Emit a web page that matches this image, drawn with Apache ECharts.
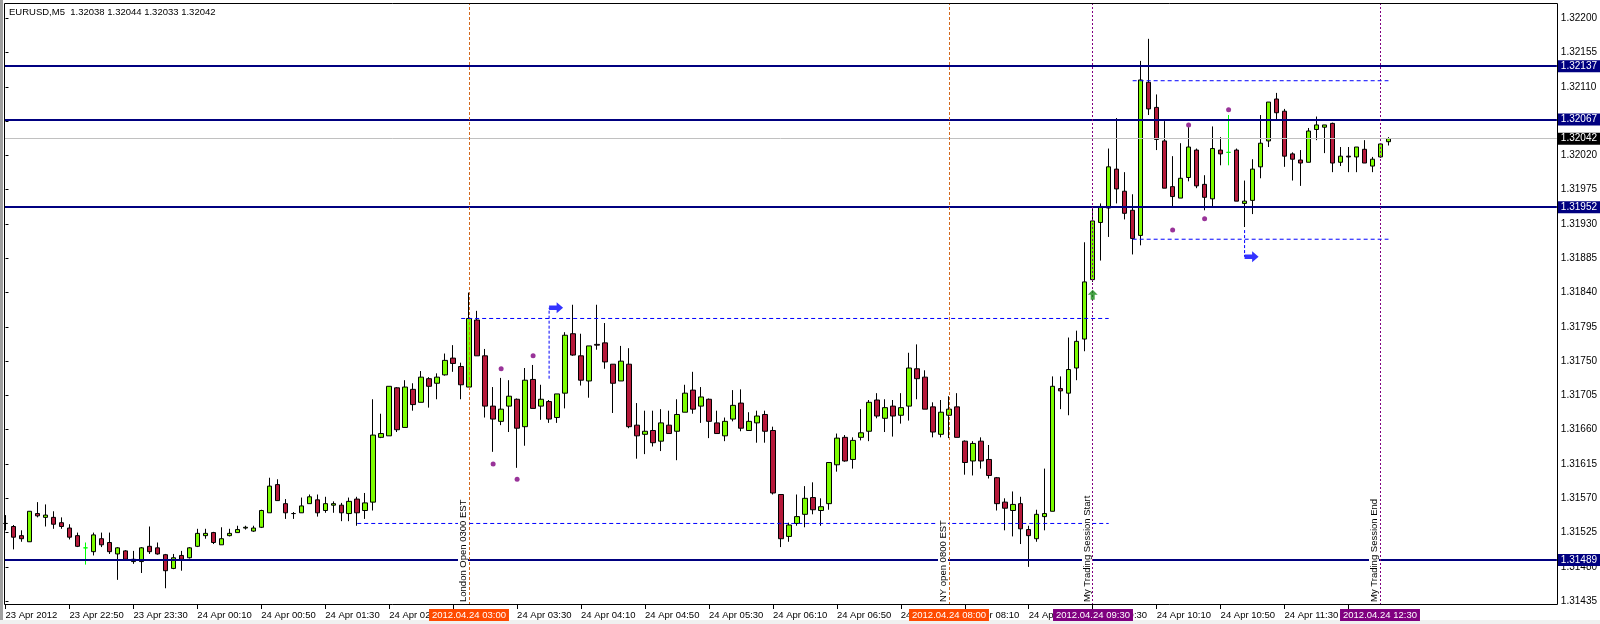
<!DOCTYPE html>
<html><head><meta charset="utf-8">
<script src="https://cdn.jsdelivr.net/npm/echarts@6/dist/echarts.min.js"></script>
<style>html,body{margin:0;padding:0;background:#fff;}#c{width:1600px;height:624px;}</style>
</head><body><div id="c"></div>
<script>
const titleText = 'EURUSD,M5  1.32038 1.32044 1.32033 1.32042';

// [time, open, high, low, close]  (23 Apr 22:10 -> 24 Apr 12:35, M5)
const candles = [
['22:10',1.31537,1.31548,1.31528,1.31537],['22:15',1.31533,1.31535,1.31503,1.31519],['22:20',1.31521,1.31528,1.31513,1.31517],
['22:25',1.31513,1.31553,1.31513,1.31553],['22:30',1.31550,1.31565,1.31545,1.31547],['22:35',1.31545,1.31562,1.31533,1.31548],
['22:40',1.31545,1.31553,1.31530,1.31536],['22:45',1.31538,1.31545,1.31530,1.31533],['22:50',1.31531,1.31536,1.31516,1.31519],
['22:55',1.31521,1.31525,1.31506,1.31507],['23:00',1.31505,1.31512,1.31483,1.31505],['23:05',1.31500,1.31525,1.31495,1.31522],
['23:10',1.31517,1.31525,1.31506,1.31509],['23:15',1.31512,1.31525,1.31497,1.31500],['23:20',1.31497,1.31506,1.31463,1.31505],
['23:25',1.31501,1.31502,1.31489,1.31490],['23:30',1.31487,1.31501,1.31484,1.31490],['23:35',1.31487,1.31506,1.31472,1.31505],
['23:40',1.31507,1.31533,1.31497,1.31500],['23:45',1.31505,1.31512,1.31496,1.31497],['23:50',1.31496,1.31497,1.31452,1.31475],
['23:55',1.31478,1.31497,1.31477,1.31492],['00:00',1.31495,1.31501,1.31475,1.31490],['00:05',1.31492,1.31506,1.31491,1.31505],
['00:10',1.31507,1.31530,1.31506,1.31524],['00:15',1.31521,1.31530,1.31517,1.31524],['00:20',1.31525,1.31526,1.31510,1.31512],
['00:25',1.31509,1.31532,1.31509,1.31517],['00:30',1.31521,1.31530,1.31520,1.31524],['00:35',1.31525,1.31534,1.31525,1.31529],
['00:40',1.31531,1.31534,1.31529,1.31532],['00:45',1.31527,1.31534,1.31526,1.31531],['00:50',1.31532,1.31555,1.31531,1.31554],
['00:55',1.31551,1.31597,1.31551,1.31586],['01:00',1.31588,1.31595,1.31567,1.31567],['01:05',1.31563,1.31569,1.31543,1.31551],
['01:10',1.31550,1.31552,1.31543,1.31550],['01:15',1.31551,1.31571,1.31551,1.31560],['01:20',1.31563,1.31575,1.31563,1.31572],
['01:25',1.31568,1.31575,1.31546,1.31551],['01:30',1.31554,1.31572,1.31551,1.31563],['01:35',1.31561,1.31566,1.31551,1.31563],
['01:40',1.31561,1.31564,1.31540,1.31551],['01:45',1.31550,1.31571,1.31540,1.31566],['01:50',1.31569,1.31572,1.31534,1.31551],
['01:55',1.31554,1.31577,1.31543,1.31564],['02:00',1.31565,1.31700,1.31554,1.31653],['02:05',1.31650,1.31681,1.31649,1.31655],
['02:10',1.31652,1.31717,1.31652,1.31717],['02:15',1.31715,1.31716,1.31657,1.31660],['02:20',1.31663,1.31725,1.31663,1.31716],
['02:25',1.31713,1.31721,1.31685,1.31693],['02:30',1.31696,1.31737,1.31696,1.31729],['02:35',1.31727,1.31729,1.31689,1.31717],
['02:40',1.31721,1.31734,1.31700,1.31729],['02:45',1.31732,1.31760,1.31731,1.31751],['02:50',1.31754,1.31771,1.31736,1.31747],
['02:55',1.31743,1.31748,1.31700,1.31719],['03:00',1.31716,1.31840,1.31716,1.31806],['03:05',1.31804,1.31816,1.31757,1.31757],
['03:10',1.31757,1.31766,1.31676,1.31691],['03:15',1.31691,1.31716,1.31631,1.31674],['03:20',1.31671,1.31728,1.31666,1.31687],
['03:25',1.31691,1.31725,1.31657,1.31704],['03:30',1.31700,1.31701,1.31610,1.31662],['03:35',1.31664,1.31741,1.31639,1.31725],
['03:40',1.31726,1.31745,1.31688,1.31688],['03:45',1.31691,1.31719,1.31673,1.31700],['03:50',1.31697,1.31699,1.31669,1.31674],
['03:55',1.31676,1.31707,1.31669,1.31707],['04:00',1.31708,1.31788,1.31688,1.31784],['04:05',1.31786,1.31824,1.31757,1.31758],
['04:10',1.31757,1.31786,1.31718,1.31725],['04:15',1.31724,1.31770,1.31702,1.31770],['04:20',1.31772,1.31824,1.31765,1.31771],
['04:25',1.31774,1.31800,1.31740,1.31749],['04:30',1.31746,1.31746,1.31682,1.31721],['04:35',1.31724,1.31770,1.31724,1.31750],
['04:40',1.31746,1.31767,1.31662,1.31664],['04:45',1.31666,1.31695,1.31622,1.31652],['04:50',1.31654,1.31685,1.31628,1.31658],
['04:55',1.31659,1.31685,1.31638,1.31643],['05:00',1.31645,1.31687,1.31632,1.31669],['05:05',1.31666,1.31685,1.31655,1.31655],
['05:10',1.31658,1.31700,1.31620,1.31680],['05:15',1.31683,1.31719,1.31683,1.31708],['05:20',1.31712,1.31736,1.31681,1.31687],
['05:25',1.31691,1.31716,1.31669,1.31703],['05:30',1.31700,1.31701,1.31649,1.31671],['05:35',1.31669,1.31685,1.31655,1.31655],
['05:40',1.31652,1.31676,1.31645,1.31671],['05:45',1.31674,1.31712,1.31671,1.31692],['05:50',1.31695,1.31713,1.31658,1.31662],
['05:55',1.31659,1.31683,1.31659,1.31671],['06:00',1.31669,1.31685,1.31643,1.31678],['06:05',1.31680,1.31685,1.31643,1.31658],
['06:10',1.31659,1.31664,1.31575,1.31577],['06:15',1.31575,1.31575,1.31506,1.31517],['06:20',1.31520,1.31538,1.31513,1.31535],
['06:25',1.31537,1.31575,1.31534,1.31546],['06:30',1.31549,1.31586,1.31532,1.31570],['06:35',1.31571,1.31591,1.31549,1.31555],
['06:40',1.31554,1.31570,1.31534,1.31559],['06:45',1.31563,1.31617,1.31555,1.31617],['06:50',1.31614,1.31655,1.31605,1.31649],
['06:55',1.31650,1.31653,1.31618,1.31619],['07:00',1.31621,1.31650,1.31609,1.31646],['07:05',1.31650,1.31687,1.31646,1.31656],
['07:10',1.31658,1.31699,1.31645,1.31696],['07:15',1.31699,1.31708,1.31675,1.31678],['07:20',1.31675,1.31700,1.31657,1.31689],
['07:25',1.31691,1.31699,1.31651,1.31678],['07:30',1.31679,1.31708,1.31668,1.31689],['07:35',1.31691,1.31761,1.31672,1.31741],
['07:40',1.31740,1.31772,1.31700,1.31727],['07:45',1.31729,1.31738,1.31687,1.31687],['07:50',1.31690,1.31696,1.31650,1.31657],
['07:55',1.31654,1.31699,1.31650,1.31683],['08:00',1.31679,1.31704,1.31649,1.31687],['08:05',1.31690,1.31708,1.31650,1.31650],
['08:10',1.31645,1.31646,1.31601,1.31617],['08:15',1.31619,1.31645,1.31600,1.31642],['08:20',1.31645,1.31650,1.31609,1.31619],
['08:25',1.31621,1.31640,1.31596,1.31600],['08:30',1.31597,1.31598,1.31554,1.31563],['08:35',1.31565,1.31570,1.31528,1.31557],
['08:40',1.31554,1.31579,1.31520,1.31562],['08:45',1.31563,1.31572,1.31510,1.31530],['08:50',1.31529,1.31534,1.31480,1.31521],
['08:55',1.31517,1.31555,1.31513,1.31549],['09:00',1.31546,1.31609,1.31528,1.31550],['09:05',1.31553,1.31730,1.31553,1.31717],
['09:10',1.31714,1.31730,1.31687,1.31711],['09:15',1.31708,1.31781,1.31679,1.31739],['09:20',1.31741,1.31790,1.31725,1.31776],
['09:25',1.31779,1.31906,1.31763,1.31854],['09:30',1.31857,1.31950,1.31854,1.31934],['09:35',1.31932,1.31957,1.31882,1.31953],
['09:40',1.31951,1.32029,1.31913,1.32005],['09:45',1.32002,1.32069,1.31957,1.31976],['09:50',1.31973,1.31998,1.31936,1.31944],
['09:55',1.31948,1.31969,1.31890,1.31911],['10:00',1.31915,1.32144,1.31902,1.32119],['10:05',1.32116,1.32173,1.32073,1.32081],
['10:10',1.32083,1.32100,1.32027,1.32041],['10:15',1.32039,1.32065,1.31977,1.31977],['10:20',1.31979,1.32019,1.31952,1.31966],
['10:25',1.31964,1.32036,1.31964,1.31990],['10:30',1.31991,1.32057,1.31986,1.32031],['10:35',1.32027,1.32029,1.31977,1.31980],
['10:40',1.31982,1.31994,1.31948,1.31965],['10:45',1.31963,1.32058,1.31951,1.32029],['10:50',1.32027,1.32044,1.32007,1.32022],
['10:55',1.32024,1.32073,1.32007,1.32024],['11:00',1.32027,1.32029,1.31960,1.31960],['11:05',1.31957,1.31987,1.31926,1.31960],
['11:10',1.31961,1.32015,1.31943,1.32002],['11:15',1.32005,1.32073,1.31990,1.32036],['11:20',1.32039,1.32090,1.32031,1.32090],
['11:25',1.32094,1.32102,1.32066,1.32076],['11:30',1.32078,1.32081,1.32005,1.32019],['11:35',1.32022,1.32024,1.31987,1.32015],
['11:40',1.32014,1.32027,1.31980,1.32010],['11:45',1.32011,1.32056,1.32011,1.32052],['11:50',1.32054,1.32071,1.32040,1.32060],
['11:55',1.32057,1.32060,1.32023,1.32060],['12:00',1.32062,1.32063,1.31998,1.32010],['12:05',1.32011,1.32031,1.32006,1.32019],
['12:10',1.32019,1.32031,1.31998,1.32018],['12:15',1.32018,1.32031,1.31998,1.32031],['12:20',1.32028,1.32040,1.32010,1.32010],
['12:25',1.32006,1.32018,1.31998,1.32015],['12:30',1.32018,1.32035,1.32017,1.32035],['12:35',1.32038,1.32044,1.32033,1.32042]
];

const dojiHighlight = ['23:00', '10:55'];
const levels = [1.32137, 1.32067, 1.31952, 1.31489];
const lastPrice = 1.32042;
const yTicks = [1.32200,1.32155,1.32110,1.32065,1.32020,1.31975,1.31930,1.31885,1.31840,1.31795,1.31750,1.31705,1.31660,1.31615,1.31570,1.31525,1.31480,1.31435];
const yHiddenLabels = [1.32065];
const xTicks = [['22:10','23 Apr 2012'],['22:50','23 Apr 22:50'],['23:30','23 Apr 23:30'],['00:10','24 Apr 00:10'],['00:50','24 Apr 00:50'],
['01:30','24 Apr 01:30'],['02:10','24 Apr 02:10'],['02:50','24 Apr 02:50'],['03:30','24 Apr 03:30'],['04:10','24 Apr 04:10'],['04:50','24 Apr 04:50'],
['05:30','24 Apr 05:30'],['06:10','24 Apr 06:10'],['06:50','24 Apr 06:50'],['07:30','24 Apr 07:30'],['08:10','24 Apr 08:10'],['08:50','24 Apr 08:50'],
['09:30','24 Apr 09:30'],['10:10','24 Apr 10:10'],['10:50','24 Apr 10:50'],['11:30','24 Apr 11:30'],['12:10','24 Apr 12:10']];
const sessions = [['03:00','London Open 0300 EST','2012.04.24 03:00'],['08:00','NY open 0800 EST','2012.04.24 08:00'],
['09:30','My Trading Session Start','2012.04.24 09:30'],['12:30','My Trading Session End','2012.04.24 12:30']];
// [startTime, endTime, price]
const dashedH = [['02:55','09:40',1.31806],['01:50','09:40',1.31537],['09:55','12:35',1.32118],['09:55','12:35',1.31910]];
// [time, priceFrom, priceTo]
const dashedV = [['03:50',1.31727,1.31820],['11:05',1.31922,1.31887]];
const arrowsRight = [['03:50',1.31820],['11:05',1.31887]];
const arrowsUp = [['09:30',1.31837]];
const dots = [['03:15',1.31615],['03:20',1.31740],['03:30',1.31595],['03:40',1.31757],['10:20',1.31922],['10:30',1.32060],['10:40',1.31937],['10:55',1.32080]];

// ---------- build ----------
const idx = {}; candles.forEach((c,i)=>{ idx[c[0]] = i; });
const X_MIN = -0.1875, X_MAX = 194.0625;
const FONT = 'Liberation Sans';
const sessionColors = ['#D2691E','#D2691E','#800080','#800080'];
const sessionBoxColors = ['#FF4A00','#FF4A00','#800080','#800080'];
const labelMap = {}; xTicks.forEach(t=>{ labelMap[idx[t[0]]] = t[1]; });

const ohlcData = candles.map((c,i)=>{
  const item = {value:[i, c[1], c[4], c[3], c[2]]};
  if (dojiHighlight.indexOf(c[0]) >= 0) item.itemStyle = {color:'#00FF00',color0:'#00FF00',borderColor:'#00FF00',borderColor0:'#00FF00',borderColorDoji:'#00FF00'};
  return item;
});

const boxLabel = bg => ({show:true,position:'end',distance:1,formatter:'{b}',color:'#fff',backgroundColor:bg,padding:[1,3,0,3],fontSize:10,lineHeight:11,fontFamily:FONT});
const markData = [];
markData.push({yAxis:lastPrice, name:lastPrice.toFixed(5), lineStyle:{color:'#C0C0C0',width:1,type:'solid'}, label:boxLabel('#000')});
levels.forEach(v=>markData.push({yAxis:v, name:v.toFixed(5), lineStyle:{color:'#000080',width:2,type:'solid'}, label:boxLabel('#000080')}));
sessions.forEach((s,k)=>markData.push({xAxis:idx[s[0]], lineStyle:{color:sessionColors[k],width:1,type:k<2?[3,2]:[2,2]}, label:{show:false}}));

const series = [{
  type:'candlestick', data:ohlcData, barWidth:5, z:2,
  itemStyle:{color:'#7CFC00',color0:'#B5193A',borderColor:'#000',borderColor0:'#000',borderColorDoji:'#000',borderWidth:1},
  markLine:{silent:true,symbol:['none','none'],precision:5,animation:false,data:markData,z:4}
}];
dashedH.forEach(d=>series.push({type:'line',silent:true,symbol:'none',z:5,animation:false,
  data:[[idx[d[0]],d[2]],[idx[d[1]],d[2]]],lineStyle:{color:'#0000FF',width:1,type:[4,3]}}));
dashedV.forEach(d=>series.push({type:'line',silent:true,symbol:'none',z:5,animation:false,
  data:[[idx[d[0]],d[1]],[idx[d[0]],d[2]]],lineStyle:{color:'#0000FF',width:1,type:[3,2]}}));
series.push({type:'scatter',silent:true,z:6,symbolSize:5,itemStyle:{color:'#800080'},data:dots.map(d=>[idx[d[0]],d[1]])});
series.push({type:'scatter',silent:true,z:6,symbol:'path://M0,3 L7,3 L7,0 L13,5 L7,10 L7,7 L0,7 Z',symbolSize:[14,11],symbolOffset:[7,0],
  itemStyle:{color:'#0000FF'},data:arrowsRight.map(d=>[idx[d[0]],d[1]])});
series.push({type:'scatter',silent:true,z:6,symbol:'path://M5,0 L10,5 L7,5 L7,10 L3,10 L3,5 L0,5 Z',symbolSize:[10,10],
  itemStyle:{color:'#148A14'},data:arrowsUp.map(d=>[idx[d[0]],d[1]])});

const chart = echarts.init(document.getElementById('c'), null, {renderer:'canvas'});
const option = {
  animation:false,
  backgroundColor:'#fff',
  textStyle:{fontFamily:FONT},
  grid:{left:4,right:42,top:3,bottom:19,show:false},
  xAxis:{type:'value',min:X_MIN,max:X_MAX,position:'bottom',axisLine:{show:false},splitLine:{show:false},
    axisTick:{show:true,customValues:xTicks.map(t=>idx[t[0]]),length:4,lineStyle:{color:'#000'}},
    axisLabel:{show:true,customValues:xTicks.map(t=>idx[t[0]]),formatter:v=>labelMap[v]||'',align:'left',margin:5,color:'#000',fontSize:9.5,fontFamily:FONT}},
  yAxis:{type:'value',position:'right',min:1.31430,max:1.32220,axisLine:{show:false},splitLine:{show:false},
    axisTick:{show:true,customValues:yTicks,length:3,lineStyle:{color:'#000'}},
    axisLabel:{customValues:yTicks.filter(v=>yHiddenLabels.indexOf(v)<0),formatter:v=>Number(v).toFixed(5),margin:4,color:'#000',fontSize:10,fontFamily:FONT}},
  series:series
};
chart.setOption(option);

// overlays positioned with the chart's own scales
const g = [];
g.push({type:'rect',shape:{x:0,y:0,width:3,height:624},style:{fill:'#a0a0a0'},z:50});
g.push({type:'rect',shape:{x:0,y:620,width:1600,height:4},style:{fill:'#f0f0f0'},z:50});
g.push({type:'rect',shape:{x:4.5,y:3.5,width:1553,height:601},style:{fill:'none',stroke:'#000',lineWidth:1},z:60});
g.push({type:'text',x:9,y:12,style:{text:titleText,fill:'#000',fontSize:9.5,fontFamily:FONT,verticalAlign:'middle',align:'left'},z:60});
sessions.forEach((s,k)=>{
  const px = chart.convertToPixel({xAxisIndex:0,yAxisIndex:0},[idx[s[0]],1.315])[0];
  g.push({type:'text',x:Math.round(px)-1,y:602,rotation:Math.PI/2,style:{text:s[1],fill:'#000',fontSize:9.5,fontFamily:FONT,align:'left',verticalAlign:'bottom',backgroundColor:'#fff',padding:[0,1,0,0]},z:55});
  g.push({type:'text',x:Math.round(px),y:609,style:{text:s[2],fill:'#fff',fontSize:9.5,fontFamily:FONT,align:'center',verticalAlign:'top',backgroundColor:sessionBoxColors[k],padding:[1,3,0,3],lineHeight:11},z:70});
});
chart.setOption({graphic:{elements:g}});
</script></body></html>
